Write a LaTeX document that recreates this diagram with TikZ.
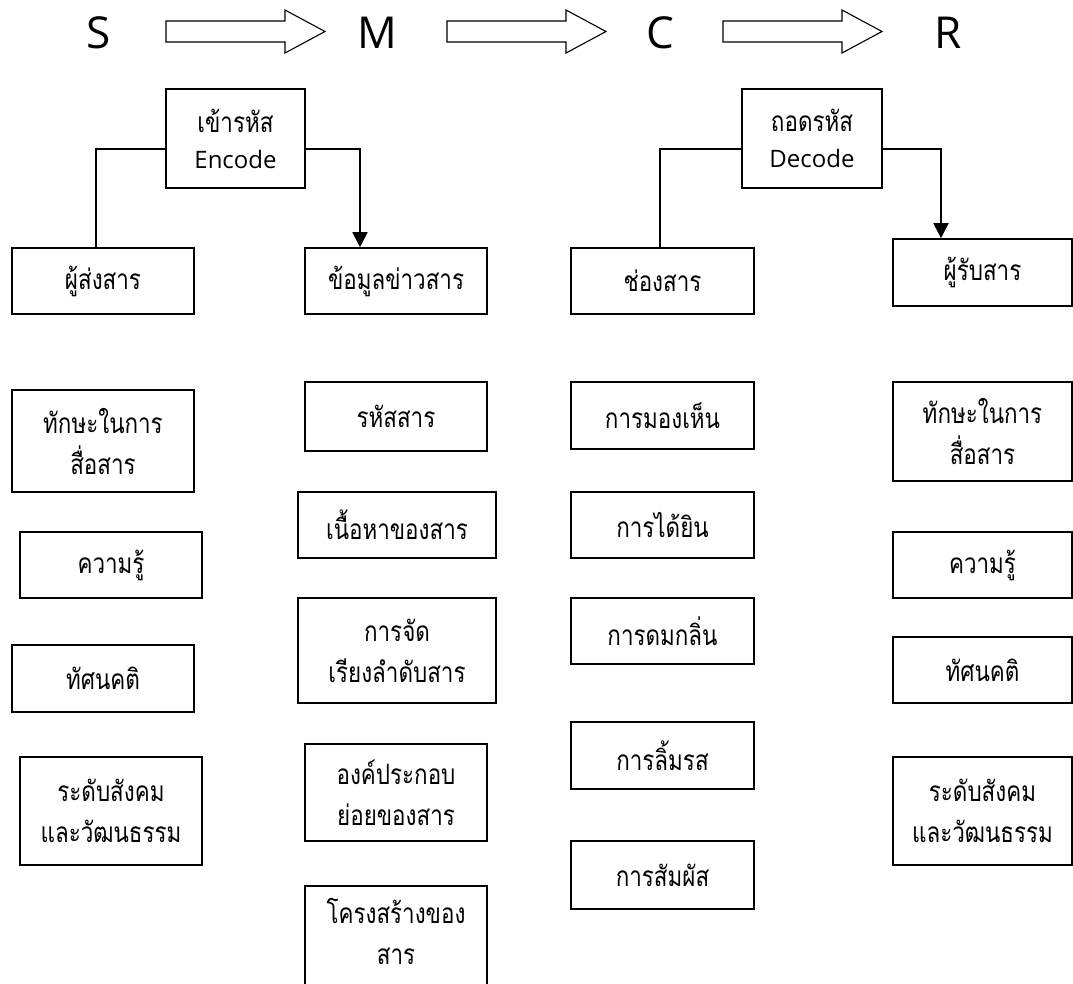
\documentclass[tikz,border=0pt]{standalone}
\usepackage{fontspec}
\setmainfont{Open Sans}
\newfontfamily\thaifont[Script=Thai,FakeStretch=0.8]{Loma}
\usetikzlibrary{arrows.meta}

\tikzset{
  box/.style={draw, line width=1.6pt, inner sep=0pt, align=center,
    font=\thaifont\fontsize{28}{41}\selectfont},
  letter/.style={inner sep=0pt, font=\fontsize{44}{44}\selectfont},
  link/.style={line width=1.8pt},
  linkarrow/.style={link, -{Triangle[width=15pt,length=15pt]}},
  pics/blockarrow/.style={code={
    \draw[line width=1.1pt, line join=miter]
      (0,-10.5) -- (119,-10.5) -- (119,-21.5) -- (159,0)
      -- (119,21.5) -- (119,10.5) -- (0,10.5) -- cycle;}}
}
\newcommand\latintext[1]{{\rmfamily\fontsize{24}{30}\selectfont #1}}

\begin{document}
\begin{tikzpicture}[x=1pt,y=-1pt]
\useasboundingbox (0,0) rectangle (1073,983);
\clip (0,0) rectangle (1073,983);

% S -> M -> C -> R
\node[letter] (S) at (99,32.5) {S};
\node[letter] (M) at (377,32.5) {M};
\node[letter] (C) at (660,32.5) {C};
\node[letter] (R) at (948,32.5) {R};
\pic at (166,31.5) {blockarrow};
\pic at (447,31.5) {blockarrow};
\pic at (723,31.5) {blockarrow};

% encoding / decoding
\node[box, minimum width=139pt, minimum height=99pt, text depth=0pt] (enc) at (235.5,138.5)
  {เข้ารหัส\\[-5pt]\latintext{Encode}};
\node[box, minimum width=140pt, minimum height=99pt, text depth=0pt] (dec) at (812,138.5)
  {ถอดรหัส\\[-5pt]\latintext{Decode}};

% main elements
\node[box, minimum width=182pt, minimum height=66pt] (sender) at (103,281) {ผู้ส่งสาร};
\node[box, minimum width=182pt, minimum height=66pt] (msg) at (396,281) {ข้อมูลข่าวสาร};
\node[box, minimum width=183pt, minimum height=66pt] (chan) at (662.5,281) {ช่องสาร};
\node[box, minimum width=179pt, minimum height=67pt] (recv) at (982.5,272.5) {ผู้รับสาร};

\draw[link] ([yshift=-10.5pt]enc.west) -| ([xshift=-7pt]sender.north);
\draw[linkarrow] ([yshift=-10.5pt]enc.east) -| ([xshift=-36pt]msg.north);
\draw[link] ([yshift=-10.5pt]dec.west) -| ([xshift=-2.5pt]chan.north);
\draw[linkarrow] ([yshift=-10.5pt]dec.east) -| ([xshift=-41.5pt]recv.north);

% sender factors
\node[box, minimum width=182pt, minimum height=102pt] (s1) at (103,441) {ทักษะในการ\\สื่อสาร};
\node[box, minimum width=182pt, minimum height=66pt] (s2) at (111,565) {ความรู้};
\node[box, minimum width=182pt, minimum height=67pt] (s3) at (103,678.5) {ทัศนคติ};
\node[box, minimum width=182pt, minimum height=108pt] (s4) at (111,811) {ระดับสังคม\\และวัฒนธรรม};

% message factors
\node[box, minimum width=182pt, minimum height=69pt] (m1) at (396,416.5) {รหัสสาร};
\node[box, minimum width=198pt, minimum height=66pt] (m2) at (397,525) {เนื้อหาของสาร};
\node[box, minimum width=198pt, minimum height=105pt] (m3) at (397,650.5) {การจัด\\เรียงลำดับสาร};
\node[box, minimum width=182pt, minimum height=97pt] (m4) at (396,792.5) {องค์ประกอบ\\ย่อยของสาร};
% this box runs on past the lower edge; an empty last line lifts its text
\node[box, minimum width=182pt, minimum height=132pt] (m5) at (396,952) {โครงสร้างของ\\สาร\\\mbox{}};

% channel senses
\node[box, minimum width=183pt, minimum height=67pt] (c1) at (662.5,415.5) {การมองเห็น};
\node[box, minimum width=183pt, minimum height=66pt] (c2) at (662.5,525) {การได้ยิน};
\node[box, minimum width=183pt, minimum height=66pt] (c3) at (662.5,631) {การดมกลิ่น};
\node[box, minimum width=183pt, minimum height=67pt] (c4) at (662.5,755.5) {การลิ้มรส};
\node[box, minimum width=183pt, minimum height=68pt] (c5) at (662.5,875) {การสัมผัส};

% receiver factors
\node[box, minimum width=179pt, minimum height=99pt] (r1) at (982.5,431.5) {ทักษะในการ\\สื่อสาร};
\node[box, minimum width=179pt, minimum height=66pt] (r2) at (982.5,565) {ความรู้};
\node[box, minimum width=179pt, minimum height=66pt] (r3) at (982.5,670) {ทัศนคติ};
\node[box, minimum width=179pt, minimum height=108pt] (r4) at (982.5,811) {ระดับสังคม\\และวัฒนธรรม};
\end{tikzpicture}
\end{document}
